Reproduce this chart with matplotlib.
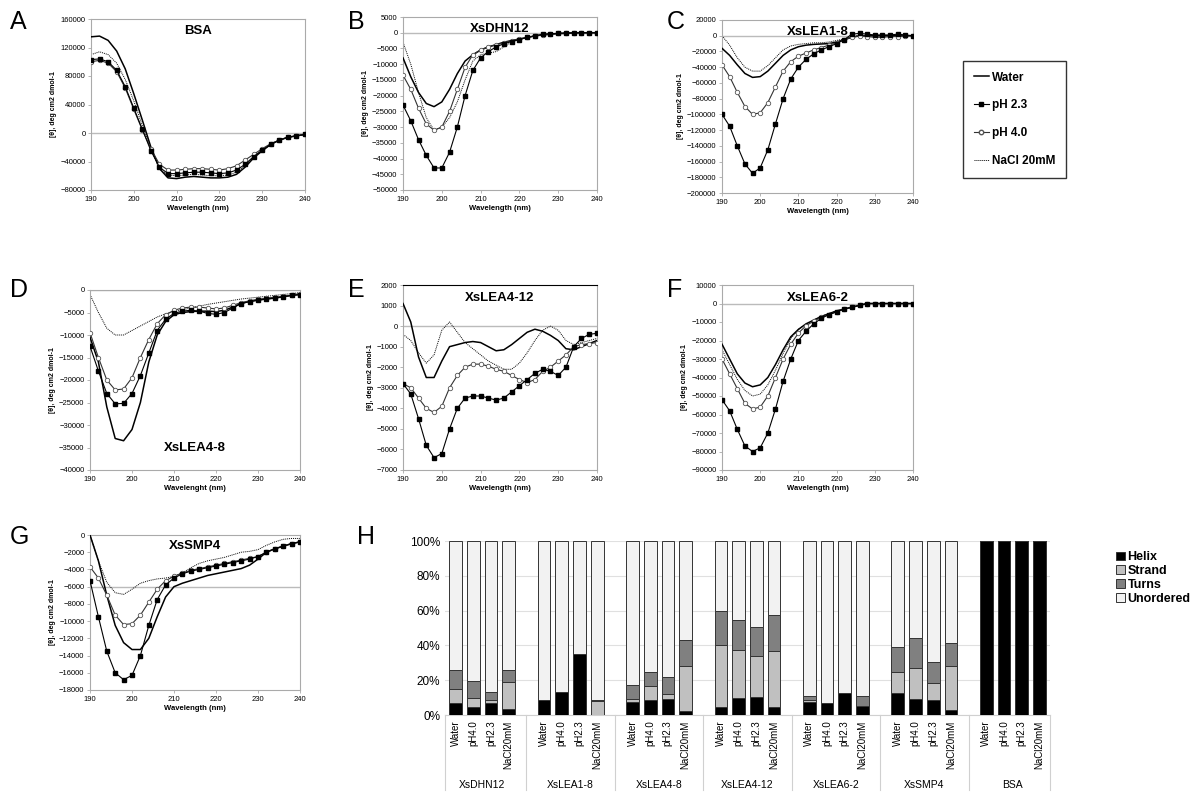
import matplotlib
matplotlib.use("Agg")
import matplotlib.pyplot as plt
from matplotlib.lines import Line2D
from matplotlib.patches import Patch
import numpy as np

plt.rcParams["font.family"] = ["Liberation Sans", "DejaVu Sans"]

WAVELENGTH = list(range(190, 241, 2))

# CD spectra (values in thousands for A, B, C, D, F; raw for E, G)
BSA = {
    "water": [135, 136, 130, 115, 90, 55, 18, -20, -50, -63, -64, -62, -61, -62, -63, -63, -62, -58, -48, -35, -25, -16, -10, -6, -4, -2],
    "ph23": [103, 104, 100, 88, 65, 35, 5, -25, -48, -57, -57, -56, -55, -55, -56, -57, -56, -52, -44, -33, -24, -16, -10, -6, -4, -2],
    "ph40": [100, 102, 98, 86, 63, 33, 4, -22, -44, -52, -52, -51, -50, -50, -51, -52, -50, -46, -38, -30, -22, -15, -10, -6, -4, -2],
    "nacl": [110, 114, 110, 98, 75, 45, 10, -22, -50, -59, -60, -59, -58, -59, -60, -60, -59, -55, -46, -34, -25, -16, -10, -6, -4, -2],
}
DHN12 = {
    "water": [-8, -14, -19, -22.5, -23.5, -22, -18, -13, -9, -7, -5.5, -4.5, -3.8, -3, -2.5, -2, -1.5, -1, -0.7, -0.5, -0.3, -0.2, -0.1, 0, 0, 0],
    "ph23": [-23, -28, -34, -39, -43, -43, -38, -30, -20, -12, -8, -6, -4.5, -3.5, -2.8, -2.2, -1.5, -1, -0.5, -0.3, -0.2, -0.1, 0, 0, 0, 0],
    "ph40": [-13.5, -18, -24, -29, -31, -30, -25, -18, -11, -7, -5.5, -4.5, -3.8, -3.2, -2.5, -2, -1.5, -1, -0.6, -0.4, -0.2, -0.1, 0, 0, 0, 0],
    "nacl": [-3, -10, -19, -27, -31, -30, -27, -22, -15, -9, -7, -6.5, -6, -4.5, -3, -2, -1.5, -1, -0.6, -0.4, -0.2, -0.1, 0, 0, 0, 0],
}
LEA1_8 = {
    "water": [-16, -25, -37, -48, -53, -52, -45, -35, -25, -18, -14, -12, -11, -10.5, -10, -8, -5, -2, 0, 0, 0, 0, 0, 0, 0, 0],
    "ph23": [-100, -115, -140, -163, -175, -168, -145, -112, -80, -55, -40, -30, -23, -18, -14, -10, -5, 2, 3, 2, 1, 1, 1, 2, 1, 0],
    "ph40": [-37, -52, -72, -90, -100, -98, -85, -65, -45, -33, -26, -22, -18, -15, -12, -9, -5, -2, 0, -1, -2, -2, -1, -1, 0, 0],
    "nacl": [0, -12, -28, -40, -45, -45, -38, -28, -18, -13, -11, -10, -9, -9, -8, -6, -4, -1, 0, 0, 0, 0, 0, 0, 0, 0],
}
LEA4_8 = {
    "water": [-10.5, -16, -26, -33, -33.5, -31, -25, -16, -10, -7, -5.5, -5, -4.8, -4.7, -4.7, -4.8, -4.5, -3.8, -3, -2.5, -2.2, -2, -1.8, -1.5, -1.2, -1],
    "ph23": [-12.5, -18, -23, -25.3, -25.2, -23, -19, -14, -9, -6.5, -5.2, -4.7, -4.5, -4.7, -5.2, -5.4, -5, -4, -3, -2.6, -2.3, -2, -1.8, -1.5, -1.2, -1],
    "ph40": [-9.5, -15, -20, -22.2, -22, -19.5, -15, -11, -7.5, -5.5, -4.5, -4, -3.8, -3.8, -4, -4.2, -4, -3.4, -2.8, -2.4, -2.1, -1.8, -1.6, -1.4, -1.1, -0.8],
    "nacl": [-1, -5, -8.5, -10, -10, -9, -8, -7, -6, -5.3, -4.8, -4.4, -4, -3.6, -3.2, -2.9, -2.6, -2.3, -2, -1.8, -1.6, -1.4, -1.2, -1, -0.8, -0.6],
}
LEA4_12 = {
    "water": [1100, 200, -1500, -2500, -2500, -1700, -1000, -900, -800, -750, -800, -1000, -1200, -1150, -900, -600, -300, -150, -250, -450, -700, -1100, -1150, -1000, -850, -700],
    "ph23": [-2800, -3300, -4500, -5800, -6400, -6200, -5000, -4000, -3500, -3400, -3400, -3500, -3600, -3500, -3200, -2900, -2600, -2300, -2100, -2200, -2400, -2000, -1000, -600, -400, -350],
    "ph40": [-2800, -3000, -3500, -4000, -4200, -3900, -3000, -2400, -2000, -1850, -1850, -1950, -2100, -2200, -2400, -2600, -2750, -2600, -2200, -2000, -1700, -1400, -1000, -900, -850, -800],
    "nacl": [-400, -700, -1300, -1800, -1400, -200, 200, -300, -800, -1100, -1400, -1700, -1900, -2100, -2100, -1800, -1300, -700, -200, 0, -200, -700, -900, -800, -700, -600],
}
LEA6_2 = {
    "water": [-22, -30, -38, -43, -45, -44, -40, -33, -25, -18, -14, -11, -9, -7, -5.5, -4, -3, -2, -1, 0, 0, 0, 0, 0, 0, 0],
    "ph23": [-52, -58, -68, -77, -80, -78, -70, -57, -42, -30, -20, -15, -11, -8, -6, -4.5, -3, -2, -1, 0, 0, 0, 0, 0, 0, 0],
    "ph40": [-30, -38, -46, -54, -57, -56, -50, -40, -30, -22, -16, -12, -9.5, -7.5, -6, -4.5, -3, -2, -1, 0, 0, 0, 0, 0, 0, 0],
    "nacl": [-25, -33, -41, -47, -50, -49, -44, -36, -27, -19, -14, -11, -9, -7, -5.5, -4, -3, -2, -1, 0, 0, 0, 0, 0, 0, 0],
}
SMP4 = {
    "water": [0, -3000, -7000, -10500, -12500, -13300, -13300, -12000, -9500, -7200, -6000, -5600, -5300, -5000, -4700, -4500, -4300, -4100, -3900, -3500, -2800, -2000, -1600, -1300, -1000, -800],
    "ph23": [-5300, -9500, -13500, -16000, -16800, -16300, -14000, -10500, -7500, -5800, -5000, -4500, -4200, -4000, -3800, -3600, -3400, -3200, -3000, -2800, -2500, -2000, -1600, -1300, -1000, -800],
    "ph40": [-3700, -5000, -7000, -9300, -10400, -10300, -9300, -7800, -6300, -5300, -4800, -4400, -4100, -3900, -3700, -3500, -3300, -3100, -2900, -2700, -2500, -2000, -1600, -1300, -1000, -800],
    "nacl": [0, -3000, -5500, -6700, -6900, -6300, -5600, -5300, -5100, -5000, -4800, -4400, -3800, -3300, -3000, -2800, -2600, -2300, -2000, -1900, -1700, -1200, -800, -500, -400, -400],
}

# secondary structure (%), order: Water, pH4.0, pH2.3, NaCl20mM
PROTEINS = ["XsDHN12", "XsLEA1-8", "XsLEA4-8", "XsLEA4-12", "XsLEA6-2", "XsSMP4", "BSA"]
CONDITIONS = ["Water", "pH4.0", "pH2.3", "NaCl20mM"]
HELIX = [[7, 4.5, 7, 3.5], [8.5, 13.5, 35, 0], [7.5, 8.5, 9, 2.5], [4.5, 9.5, 10.5, 4.5],
         [7.5, 7, 12.5, 5], [12.5, 9, 8.5, 3], [100, 100, 100, 100]]
STRAND = [[8, 5, 1.5, 15.5], [0, 0, 0, 8], [1.5, 8, 3, 25.5], [35.5, 28, 23.5, 32.5],
          [1, 0, 0, 0], [12.5, 18, 10, 25], [0, 0, 0, 0]]
TURNS = [[11, 10, 5, 7], [0, 0, 0, 0.5], [8, 8.5, 10, 15], [19.5, 17, 16.5, 20.5],
         [2.5, 0, 0, 6], [14, 17, 12, 13.5], [0, 0, 0, 0]]

W, H = 1202, 796


def px_axes(fig, x0, x1, y0, y1):
    return fig.add_axes([x0 / W, 1 - y1 / H, (x1 - x0) / W, (y1 - y0) / H])


def draw_cd(ax, data, scale, ylim, step, title, title_y=0.93, xlabel="Wavelength (nm)", zero=0):
    wl = WAVELENGTH
    get = lambda k: np.array(data[k]) * scale
    ax.axhline(zero, color="#bbbbbb", lw=1, zorder=1)
    ax.plot(wl, get("nacl"), color="black", lw=0.7, ls=(0, (1, 1)), zorder=2)
    ax.plot(wl, get("water"), color="black", lw=1.1, zorder=3)
    ax.plot(wl, get("ph40"), color="#333333", lw=0.8, marker="o", ms=3.2,
            mfc="white", mec="#555555", mew=0.6, zorder=4)
    ax.plot(wl, get("ph23"), color="black", lw=0.8, marker="s", ms=3, zorder=5)
    ax.set_xlim(190, 240)
    ax.set_ylim(*ylim)
    ax.set_xticks(range(190, 241, 10))
    ax.set_yticks(np.arange(ylim[0], ylim[1] + 1, step))
    ax.tick_params(labelsize=5.5, length=2, width=0.5, color="#999999", pad=2)
    for s in ax.spines.values():
        s.set_color("#aaaaaa")
        s.set_linewidth(0.8)
    ax.set_ylabel("[θ], deg cm2 dmol-1", fontsize=5, fontweight="bold", labelpad=2)
    if xlabel:
        ax.set_xlabel(xlabel, fontsize=5.5, fontweight="bold", labelpad=2)
    ax.text(0.5, title_y, title, transform=ax.transAxes, ha="center", va="center",
            fontsize=9.5, fontweight="bold")


fig = plt.figure(figsize=(W / 100, H / 100), dpi=100)

ax = px_axes(fig, 91, 305, 19, 190)
draw_cd(ax, BSA, 1000, (-80000, 160000), 40000, "BSA")
ax = px_axes(fig, 403, 597, 17, 190)
draw_cd(ax, DHN12, 1000, (-50000, 5000), 5000, "XsDHN12")
ax = px_axes(fig, 722, 913, 20, 193)
draw_cd(ax, LEA1_8, 1000, (-200000, 20000), 20000, "XsLEA1-8")
ax = px_axes(fig, 90, 300, 290, 470)
draw_cd(ax, LEA4_8, 1000, (-40000, 0), 5000, "XsLEA4-8", title_y=0.12, xlabel="Wavelenght (nm)")
ax = px_axes(fig, 403, 597, 285, 470)
draw_cd(ax, LEA4_12, 1, (-7000, 2000), 1000, "XsLEA4-12")
ax.spines["top"].set_color("black")
ax = px_axes(fig, 722, 913, 285, 470)
draw_cd(ax, LEA6_2, 1000, (-90000, 10000), 10000, "XsLEA6-2")
ax = px_axes(fig, 90, 300, 535, 690)
draw_cd(ax, SMP4, 1, (-18000, 0), 2000, "XsSMP4", zero=-6000)

# legend for CD panels
handles = [
    Line2D([], [], color="black", lw=1.1),
    Line2D([], [], color="black", lw=0.8, marker="s", ms=3),
    Line2D([], [], color="#333333", lw=0.8, marker="o", ms=3.2, mfc="white", mec="#555555"),
    Line2D([], [], color="black", lw=0.7, ls=(0, (1, 1))),
]
leg = fig.legend(handles, ["Water", "pH 2.3", "pH 4.0", "NaCl 20mM"],
                 loc="upper left", bbox_to_anchor=(957 / W, 1 - 55 / H),
                 frameon=True, fancybox=False, edgecolor="black", handlelength=1.3,
                 handletextpad=0.3, labelspacing=1.35, borderpad=0.9,
                 prop={"size": 8.5, "weight": "bold"})

# panel H
axh = px_axes(fig, 445, 1050, 541, 715)
n_group = len(PROTEINS)
slot = 5
positions = []
for g in range(n_group):
    for c in range(len(CONDITIONS)):
        positions.append(g * slot + c)
positions = np.array(positions, dtype=float)
helix = np.array(HELIX).ravel()
strand = np.array(STRAND).ravel()
turns = np.array(TURNS).ravel()
unordered = 100 - helix - strand - turns
kw = dict(width=0.72, edgecolor="#333333", linewidth=0.7, zorder=3)
axh.bar(positions, helix, color="black", **kw)
axh.bar(positions, strand, bottom=helix, color="#c0c0c0", **kw)
axh.bar(positions, turns, bottom=helix + strand, color="#808080", **kw)
axh.bar(positions, unordered, bottom=helix + strand + turns, color="#f2f2f2", **kw)
axh.set_xlim(-0.6, n_group * slot - 1.4)
axh.set_ylim(0, 100)
axh.set_yticks(range(0, 101, 20))
axh.set_yticklabels([f"{v}%" for v in range(0, 101, 20)], fontsize=8.5)
axh.yaxis.grid(True, color="#e0e0e0", lw=0.8, zorder=0)
axh.set_xticks(positions)
axh.set_xticklabels(CONDITIONS * n_group, rotation=90, fontsize=7)
axh.tick_params(axis="x", length=0, pad=4)
axh.tick_params(axis="y", length=0)
for s in axh.spines.values():
    s.set_visible(False)
axh.spines["bottom"].set_visible(True)
axh.spines["bottom"].set_color("#d0d0d0")
for g in range(n_group + 1):
    xs = g * slot - 1.0 if g > 0 else -0.6
    if g == n_group:
        xs = n_group * slot - 1.4
    axh.plot([xs, xs], [0, -43], color="#d0d0d0", lw=0.8, clip_on=False)
for g, name in enumerate(PROTEINS):
    axh.text(g * slot + 1.5, -40, name, ha="center", va="center", fontsize=7.5)
fig.legend(
    [Patch(fc=c, ec="#333333", lw=0.7) for c in ["black", "#c0c0c0", "#808080", "#f2f2f2"]],
    ["Helix", "Strand", "Turns", "Unordered"], loc="upper left",
    bbox_to_anchor=(1105 / W, 1 - 540 / H), frameon=False, handlelength=0.7,
    handleheight=0.7, handletextpad=0.2, labelspacing=0.15,
    prop={"size": 9, "weight": "bold"})

for letter, x, y in [("A", 10, 22), ("B", 348, 22), ("C", 667, 22), ("D", 10, 290),
                     ("E", 348, 290), ("F", 667, 290), ("G", 10, 537), ("H", 357, 537)]:
    fig.text(x / W, 1 - y / H, letter, fontsize=18, va="center", ha="left")

fig.savefig("out.png", dpi=100)
